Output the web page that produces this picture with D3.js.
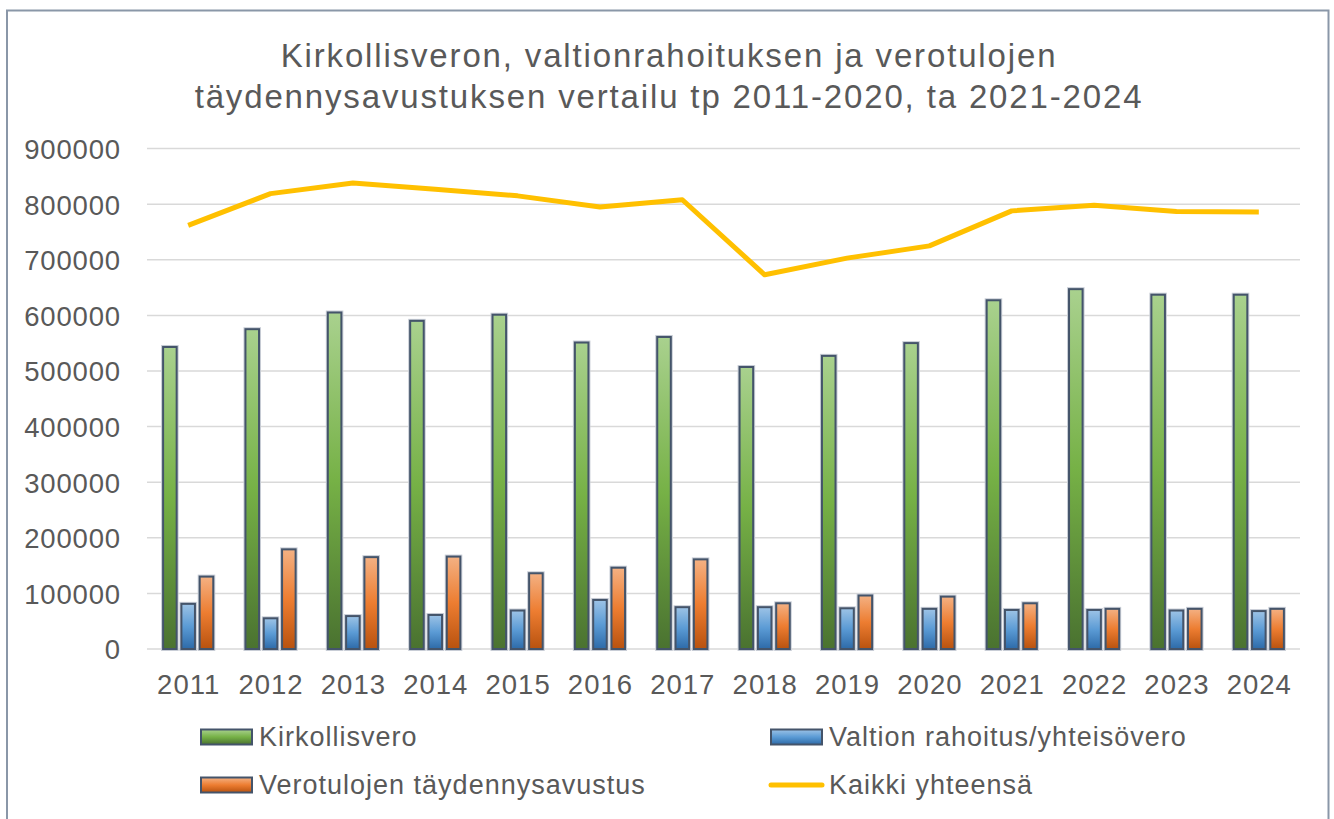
<!DOCTYPE html>
<html>
<head>
<meta charset="utf-8">
<script src="https://cdn.jsdelivr.net/npm/d3@7"></script>
<style>
  html, body { margin: 0; padding: 0; background: #ffffff; }
  svg { display: block; font-family: "Liberation Sans", Arial, sans-serif; }
</style>
</head>
<body>
<svg id="chart" width="1334" height="819"></svg>
<script>
// ---- data ----
const years = ["2011","2012","2013","2014","2015","2016","2017","2018","2019","2020","2021","2022","2023","2024"];
const kirkollisvero = [545000, 577000, 607000, 592000, 603000, 553000, 563000, 509000, 529000, 552000, 629000, 649000, 639000, 639000];
const valtionRahoitus = [83000, 57000, 61000, 63000, 71000, 90000, 77000, 77000, 75000, 74000, 72000, 72000, 71000, 70000];
const taydennysavustus = [132000, 181000, 167000, 168000, 138000, 148000, 163000, 84000, 98000, 96000, 84000, 74000, 74000, 74000];
const kaikkiYhteensa = [762000, 819000, 838000, 827000, 815000, 795000, 808000, 673000, 703000, 725000, 788000, 798000, 787000, 786000];
const yTicks = [0, 100000, 200000, 300000, 400000, 500000, 600000, 700000, 800000, 900000];
const seriesNames = ["Kirkollisvero", "Valtion rahoitus/yhteisövero", "Verotulojen täydennysavustus", "Kaikki yhteensä"];
const titleLines = ["Kirkollisveron, valtionrahoituksen ja verotulojen", "täydennysavustuksen vertailu tp 2011-2020, ta 2021-2024"];

const barSeries = [
  { key: "k", name: seriesNames[0], values: kirkollisvero, grad: "gGreen" },
  { key: "v", name: seriesNames[1], values: valtionRahoitus, grad: "gBlue" },
  { key: "t", name: seriesNames[2], values: taydennysavustus, grad: "gOrange" }
];

const textColor = "#595959";
const svg = d3.select("#chart");

// gradients
const defs = svg.append("defs");
function grad(id, stops) {
  const g = defs.append("linearGradient").attr("id", id)
    .attr("x1", 0).attr("y1", 0).attr("x2", 0).attr("y2", 1);
  stops.forEach(s => g.append("stop").attr("offset", s[0]).attr("stop-color", s[1]));
}
grad("gGreen", [[0, "#a9d18e"], [0.5, "#76b146"], [1, "#4a7230"]]);
grad("gBlue", [[0, "#9dc3e6"], [0.5, "#5b9bd5"], [1, "#2d6aa8"]]);
grad("gOrange", [[0, "#f4b183"], [0.5, "#ed7d31"], [1, "#b8520f"]]);

// chart border
svg.append("rect").attr("x", 7).attr("y", 10.5).attr("width", 1321.5).attr("height", 830)
  .attr("fill", "none").attr("stroke", "#8a97a8").attr("stroke-width", 2);

// scales
const x0 = d3.scaleBand().domain(years).range([147, 1300]).paddingInner(0).paddingOuter(0);
const x1 = d3.scaleBand().domain(barSeries.map(s => s.key)).range([0, x0.bandwidth()])
  .paddingInner(0.15).paddingOuter(0.825);
const y = d3.scaleLinear().domain([0, 900000]).range([649, 148.6]);

// gridlines
svg.append("g").selectAll("line").data(yTicks).join("line")
  .attr("x1", 147).attr("x2", 1300)
  .attr("y1", d => y(d)).attr("y2", d => y(d))
  .attr("stroke", "#d9d9d9").attr("stroke-width", 1.5);

// y axis
const yAxis = d3.axisLeft(y).tickValues(yTicks).tickFormat(d => String(d)).tickSize(0).tickPadding(0);
const gy = svg.append("g").attr("transform", "translate(121,0)").call(yAxis);
gy.select(".domain").remove();
gy.selectAll("text").attr("fill", textColor).style("font-size", "27.5px")
  .style("letter-spacing", "0.85px")
  .style("font-family", "'Liberation Sans', Arial, sans-serif").attr("dy", "0.36em");

// x axis
const xAxis = d3.axisBottom(x0).tickSize(0).tickPadding(0);
const gx = svg.append("g").attr("transform", "translate(0,674)").call(xAxis);
gx.select(".domain").remove();
gx.selectAll("text").attr("fill", textColor).style("font-size", "27.5px")
  .style("letter-spacing", "1px").attr("dx", "0.5")
  .style("font-family", "'Liberation Sans', Arial, sans-serif").attr("dy", "0.71em");

// bars
const bw = x1.bandwidth();
const gBars = svg.append("g");
barSeries.forEach(s => {
  const sel = gBars.append("g").selectAll("g").data(years.map((yr, i) => ({ yr, v: s.values[i] }))).join("g");
  // light halo
  sel.append("rect")
    .attr("x", d => x0(d.yr) + x1(s.key) + 1)
    .attr("y", d => y(d.v) + 1)
    .attr("width", bw - 2)
    .attr("height", d => y(0) - y(d.v) - 1)
    .attr("fill", "none").attr("stroke", "#c8cdd6").attr("stroke-width", 4);
  sel.append("rect")
    .attr("x", d => x0(d.yr) + x1(s.key) + 1)
    .attr("y", d => y(d.v) + 1)
    .attr("width", bw - 2)
    .attr("height", d => y(0) - y(d.v) - 1)
    .attr("fill", `url(#${s.grad})`)
    .attr("stroke", "#44546a").attr("stroke-width", 2);
});

// total line
const line = d3.line()
  .x((d, i) => x0(years[i]) + x0.bandwidth() / 2)
  .y(d => y(d));
svg.append("path").datum(kaikkiYhteensa)
  .attr("d", line)
  .attr("fill", "none").attr("stroke", "#ffc000").attr("stroke-width", 5)
  .attr("stroke-linejoin", "round");

// title
svg.append("g").selectAll("text").data(titleLines).join("text")
  .attr("x", 669).attr("y", (d, i) => 66.5 + i * 41)
  .attr("text-anchor", "middle").attr("fill", textColor)
  .style("letter-spacing", "1.85px")
  .style("font-size", "33px").text(d => d);

// legend
const legendItems = [
  { name: seriesNames[0], type: "bar", grad: "gGreen", x: 201, y: 737 },
  { name: seriesNames[1], type: "bar", grad: "gBlue", x: 771, y: 737 },
  { name: seriesNames[2], type: "bar", grad: "gOrange", x: 201, y: 785 },
  { name: seriesNames[3], type: "line", x: 771, y: 785 }
];
const lg = svg.append("g").selectAll("g").data(legendItems).join("g")
  .attr("transform", d => `translate(${d.x},${d.y})`);
lg.filter(d => d.type === "bar").append("rect")
  .attr("x", 0).attr("y", -7.5).attr("width", 51).attr("height", 15)
  .attr("fill", d => `url(#${d.grad})`).attr("stroke", "#44546a").attr("stroke-width", 2);
lg.filter(d => d.type === "line").append("line")
  .attr("x1", 0).attr("x2", 51).attr("y1", 0).attr("y2", 0)
  .attr("stroke", "#ffc000").attr("stroke-width", 5).attr("stroke-linecap", "round");
lg.append("text").attr("x", 58).attr("y", 0).attr("dy", "0.35em")
  .attr("fill", textColor).style("font-size", "27px").style("letter-spacing", "1px").text(d => d.name);
</script>
</body>
</html>
